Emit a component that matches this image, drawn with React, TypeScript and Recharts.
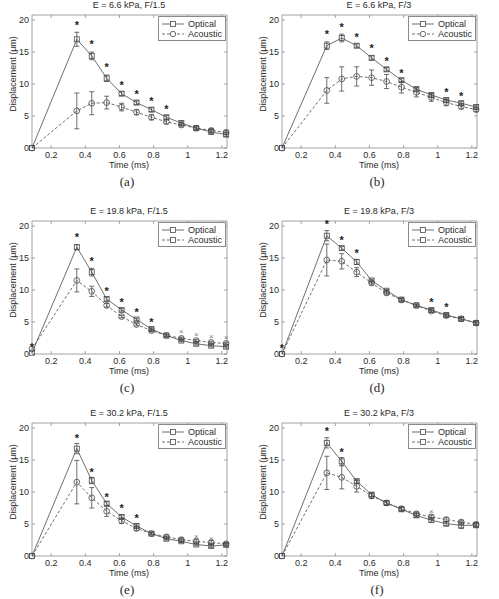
import React from 'react';
import { ComposedChart, Line, XAxis, YAxis, ErrorBar, Scatter, ReferenceArea, ReferenceLine } from 'recharts';

const TIME_MS = [0.0875, 0.35, 0.4375, 0.525, 0.6125, 0.7, 0.7875, 0.875, 0.9625, 1.05, 1.1375, 1.225];
const X_TICKS = [0.2, 0.4, 0.6, 0.8, 1, 1.2];
const Y_TICKS = [0, 5, 10, 15, 20];
const X_DOMAIN = [0.0875, 1.23];
const Y_DOMAIN = [0, 20.8];

const TITLES = [
  'E = 6.6 kPa, F/1.5', 'E = 6.6 kPa, F/3',
  'E = 19.8 kPa, F/1.5', 'E = 19.8 kPa, F/3',
  'E = 30.2 kPa, F/1.5', 'E = 30.2 kPa, F/3',
];
const LETTERS = ['(a)', '(b)', '(c)', '(d)', '(e)', '(f)'];

// (a)
const OPT_A = [0, 17.0, 14.4, 10.9, 8.5, 7.1, 6.0, 4.8, 3.9, 3.1, 2.5, 2.1];
const OPT_ERR_A = [null, 1.1, 0.6, 0.5, 0.3, 0.3, 0.3, 0.3, 0.3, 0.3, 0.3, 0.3];
const AC_A = [0, 5.8, 7.0, 7.1, 6.4, 5.6, 4.8, 4.1, 3.6, 3.1, 2.75, 2.45];
const AC_ERR_A = [null, 2.8, 1.8, 1.0, 0.6, 0.4, 0.4, 0.3, 0.3, 0.2, 0.3, 0.3];
const STAR_A = [null, 19.2, 16.2, 12.6, 9.8, 8.4, 7.3, 6.1, null, null, null, null];
const CROSS_A = [null, null, null, null, null, null, null, null, null, null, null, null];

// (b)
const OPT_B = [0, 16.0, 17.2, 16.0, 14.1, 12.3, 10.6, 9.2, 8.3, 7.5, 7.0, 6.4];
const OPT_ERR_B = [null, 0.6, 0.6, 0.3, 0.3, 0.3, 0.3, 0.3, 0.3, 0.3, 0.3, 0.3];
const AC_B = [0, 9.0, 10.8, 11.2, 11.0, 10.4, 9.5, 8.7, 7.9, 7.1, 6.5, 6.0];
const AC_ERR_B = [null, 2.0, 1.9, 1.5, 1.2, 1.1, 0.9, 0.7, 0.6, 0.5, 0.4, 0.3];
const STAR_B = [null, 17.8, 19.0, 17.4, 15.6, 13.6, 11.8, null, null, 8.8, 8.2, null];
const CROSS_B = [null, null, null, null, null, null, null, null, null, null, null, null];

// (c)
const OPT_C = [0.2, 16.7, 12.8, 8.6, 6.9, 5.4, 3.9, 2.9, 2.1, 1.6, 1.3, 1.15];
const OPT_ERR_C = [null, 0.4, 0.6, 0.3, 0.2, 0.2, 0.2, 0.2, 0.2, 0.2, 0.2, 0.2];
const AC_C = [0.8, 11.5, 9.8, 7.6, 5.85, 4.6, 3.65, 2.9, 2.45, 2.1, 1.8, 1.65];
const AC_ERR_C = [null, 1.8, 0.8, 0.3, 0.2, 0.2, 0.2, 0.2, 0.2, 0.2, 0.2, 0.2];
const STAR_C = [1.1, 18.3, 14.5, 9.8, 8.1, 6.6, 5.0, null, null, null, null, null];
const CROSS_C = [null, null, null, null, null, null, null, null, 3.5, 3.0, 2.7, 2.6];

// (d)
const OPT_D = [0, 18.5, 16.55, 14.4, 11.5, 9.9, 8.5, 7.6, 6.9, 6.1, 5.5, 4.85];
const OPT_ERR_D = [null, 0.8, 0.3, 0.4, 0.2, 0.2, 0.2, 0.2, 0.2, 0.2, 0.2, 0.2];
const AC_D = [0, 14.7, 14.5, 12.8, 11.1, 9.55, 8.45, 7.6, 6.7, 6.0, 5.5, 4.85];
const AC_ERR_D = [null, 2.5, 1.2, 0.7, 0.3, 0.3, 0.2, 0.2, 0.2, 0.2, 0.2, 0.2];
const STAR_D = [1.0, 20.3, 17.8, 15.8, null, null, null, null, 8.1, 7.4, null, null];
const CROSS_D = [null, null, null, null, null, null, null, null, null, null, null, null];

// (e)
const OPT_E = [0, 16.8, 11.8, 8.2, 6.1, 4.7, 3.5, 2.7, 2.3, 1.8, 1.55, 1.75];
const OPT_ERR_E = [null, 0.8, 0.5, 0.3, 0.3, 0.3, 0.2, 0.2, 0.2, 0.2, 0.2, 0.2];
const AC_E = [0, 11.55, 9.1, 7.0, 5.5, 4.3, 3.5, 3.0, 2.55, 2.3, 2.1, 1.9];
const AC_ERR_E = [null, 3.4, 1.6, 0.8, 0.4, 0.3, 0.2, 0.3, 0.3, 0.3, 0.3, 0.2];
const STAR_E = [null, 18.4, 13.1, 9.3, 7.5, 5.9, null, null, null, null, null, null];
const CROSS_E = [null, null, null, null, null, null, null, null, null, 3.0, 2.8, null];

// (f)
const OPT_F = [0, 17.7, 14.8, 11.7, 9.6, 8.3, 7.3, 6.35, 5.6, 5.05, 4.8, 4.8];
const OPT_ERR_F = [null, 0.8, 0.6, 0.3, 0.3, 0.3, 0.3, 0.3, 0.3, 0.3, 0.5, 0.3];
const AC_F = [0, 13.0, 12.3, 10.9, 9.4, 8.3, 7.4, 6.6, 6.1, 5.7, 5.3, 4.95];
const AC_ERR_F = [null, 2.6, 1.8, 0.9, 0.4, 0.3, 0.3, 0.3, 0.3, 0.3, 0.3, 0.3];
const STAR_F = [null, 19.5, 16.25, null, null, null, null, null, null, null, null, null];
const CROSS_F = [null, null, null, null, null, null, null, null, 6.9, null, null, null];

const PANELS = [
  { opt: OPT_A, optErr: OPT_ERR_A, ac: AC_A, acErr: AC_ERR_A, star: STAR_A, cross: CROSS_A, legendAc: 'circle' },
  { opt: OPT_B, optErr: OPT_ERR_B, ac: AC_B, acErr: AC_ERR_B, star: STAR_B, cross: CROSS_B, legendAc: 'circle' },
  { opt: OPT_C, optErr: OPT_ERR_C, ac: AC_C, acErr: AC_ERR_C, star: STAR_C, cross: CROSS_C, legendAc: 'square' },
  { opt: OPT_D, optErr: OPT_ERR_D, ac: AC_D, acErr: AC_ERR_D, star: STAR_D, cross: CROSS_D, legendAc: 'square' },
  { opt: OPT_E, optErr: OPT_ERR_E, ac: AC_E, acErr: AC_ERR_E, star: STAR_E, cross: CROSS_E, legendAc: 'square' },
  { opt: OPT_F, optErr: OPT_ERR_F, ac: AC_F, acErr: AC_ERR_F, star: STAR_F, cross: CROSS_F, legendAc: 'square' },
];

const INK = '#4a4a4a';
const FRAME = '#8a8a8a';
const TEXT = '#2a2a2a';
const SANS = '"Liberation Sans", Arial, sans-serif';
const SERIF = '"Liberation Serif", "Times New Roman", serif';

const ROW_TOPS = [0, 206, 408];
const COL_LEFTS = [0, 250];

// inward tick length, in data units (about 3px)
const TICK_Y = 0.45;
const TICK_X = 0.017;

const ok = (v: any) => typeof v === 'number' && Number.isFinite(v);

const SquareDot = (props: any) => {
  const { cx, cy } = props;
  if (!ok(cx) || !ok(cy)) return null;
  return <rect x={cx - 2.5} y={cy - 2.5} width={5} height={5} fill="none" stroke={INK} strokeWidth={0.8} />;
};

const CircleDot = (props: any) => {
  const { cx, cy } = props;
  if (!ok(cx) || !ok(cy)) return null;
  return <circle cx={cx} cy={cy} r={2.9} fill="none" stroke={INK} strokeWidth={0.8} />;
};

const StarMark = (props: any) => {
  const { cx, cy } = props;
  if (!ok(cx) || !ok(cy)) return null;
  return <text x={cx} y={cy + 4} textAnchor="middle" fontSize={11} fontWeight="bold" fill="#222" fontFamily={SANS}>*</text>;
};

const CrossMark = (props: any) => {
  const { cx, cy } = props;
  if (!ok(cx) || !ok(cy)) return null;
  return <text x={cx} y={cy + 2.5} textAnchor="middle" fontSize={8} fill="#777" fontFamily={SANS}>×</text>;
};

const LegendBox = ({ acMarker }: { acMarker: string }) => (
  <div style={{ position: 'absolute', left: 158, top: 16, width: 66, height: 23, border: `1px solid ${FRAME}`, background: '#fff' }}>
    <svg width={66} height={23} style={{ position: 'absolute', left: 0, top: 0 }}>
      <line x1={3} y1={7} x2={25} y2={7} stroke={INK} strokeWidth={0.8} />
      <rect x={11.5} y={4.5} width={5} height={5} fill="#fff" stroke={INK} strokeWidth={0.8} />
      <line x1={3} y1={17} x2={25} y2={17} stroke={INK} strokeWidth={0.8} strokeDasharray="3 2" />
      {acMarker === 'circle'
        ? <circle cx={14} cy={17} r={2.7} fill="#fff" stroke={INK} strokeWidth={0.8} />
        : <rect x={11.5} y={14.5} width={5} height={5} fill="#fff" stroke={INK} strokeWidth={0.8} />}
      <text x={29} y={10} fontSize={9} fill={TEXT} fontFamily={SANS}>Optical</text>
      <text x={29} y={20} fontSize={9} fill={TEXT} fontFamily={SANS}>Acoustic</text>
    </svg>
  </div>
);

const Panel = ({ idx }: { idx: number }) => {
  const p = PANELS[idx];
  const left = COL_LEFTS[idx % 2];
  const top = ROW_TOPS[Math.floor(idx / 2)];
  const rows = TIME_MS.map((t, i) => ({ t, opt: p.opt[i], optErr: p.optErr[i], ac: p.ac[i], acErr: p.acErr[i] }));
  const stars = TIME_MS.map((t, i) => ({ t, v: p.star[i] })).filter((d) => d.v != null);
  const crosses = TIME_MS.map((t, i) => ({ t, v: p.cross[i] })).filter((d) => d.v != null);
  const [x0, x1] = X_DOMAIN;
  const [y0, y1] = Y_DOMAIN;

  return (
    <div style={{ position: 'absolute', left, top, width: 250, height: 200 }}>
      <ComposedChart width={250} height={200} data={rows} margin={{ top: 15, right: 23, left: 0, bottom: 0 }}>
        <XAxis
          type="number"
          dataKey="t"
          domain={X_DOMAIN}
          ticks={X_TICKS}
          height={52}
          axisLine={false}
          tickLine={false}
          tickSize={0}
          tickMargin={4}
          tick={{ fontSize: 9, fill: TEXT, fontFamily: SANS }}
        />
        <YAxis
          type="number"
          domain={Y_DOMAIN}
          ticks={Y_TICKS}
          width={32}
          axisLine={false}
          tickLine={false}
          tickSize={0}
          tickMargin={3}
          tick={{ fontSize: 9, fill: TEXT, fontFamily: SANS }}
        />
        <ReferenceArea x1={x0} x2={x1} y1={y0} y2={y1} fill="none" stroke={FRAME} strokeWidth={0.8} />
        {X_TICKS.map((t) => (
          <ReferenceLine key={`xb${t}`} segment={[{ x: t, y: y0 }, { x: t, y: y0 + TICK_Y }]} stroke={FRAME} strokeWidth={0.8} />
        ))}
        {X_TICKS.map((t) => (
          <ReferenceLine key={`xt${t}`} segment={[{ x: t, y: y1 }, { x: t, y: y1 - TICK_Y }]} stroke={FRAME} strokeWidth={0.8} />
        ))}
        {Y_TICKS.map((v) => (
          <ReferenceLine key={`yl${v}`} segment={[{ x: x0, y: v }, { x: x0 + TICK_X, y: v }]} stroke={FRAME} strokeWidth={0.8} />
        ))}
        {Y_TICKS.map((v) => (
          <ReferenceLine key={`yr${v}`} segment={[{ x: x1, y: v }, { x: x1 - TICK_X, y: v }]} stroke={FRAME} strokeWidth={0.8} />
        ))}
        <Line dataKey="ac" stroke={INK} strokeWidth={0.8} strokeDasharray="3 2" dot={<CircleDot />} isAnimationActive={false}>
          <ErrorBar dataKey="acErr" width={2.5} stroke={INK} strokeWidth={0.8} direction="y" />
        </Line>
        <Line dataKey="opt" stroke={INK} strokeWidth={0.8} dot={<SquareDot />} isAnimationActive={false}>
          <ErrorBar dataKey="optErr" width={2.5} stroke={INK} strokeWidth={0.8} direction="y" />
        </Line>
        {stars.length > 0 && (
          <Scatter data={stars} dataKey="v" shape={<StarMark />} isAnimationActive={false} />
        )}
        {crosses.length > 0 && (
          <Scatter data={crosses} dataKey="v" shape={<CrossMark />} isAnimationActive={false} />
        )}
      </ComposedChart>

      <div style={{ position: 'absolute', left: 29, width: 200, top: 0, textAlign: 'center', fontFamily: SANS, fontSize: 9, color: TEXT, lineHeight: '10px' }}>
        {TITLES[idx]}
      </div>
      <div style={{ position: 'absolute', left: -47, top: 68, width: 120, textAlign: 'center', transform: 'rotate(-90deg)', fontFamily: SANS, fontSize: 9, color: TEXT, lineHeight: '12px' }}>
        Displacement (μm)
      </div>
      <div style={{ position: 'absolute', left: 29, width: 200, top: 159, textAlign: 'center', fontFamily: SANS, fontSize: 9, color: TEXT, lineHeight: '12px' }}>
        Time (ms)
      </div>
      <div style={{ position: 'absolute', left: 27, width: 200, top: 174, textAlign: 'center', fontFamily: SERIF, fontSize: 13, color: TEXT, lineHeight: '16px' }}>
        {LETTERS[idx]}
      </div>
      <LegendBox acMarker={p.legendAc} />
    </div>
  );
};

export default function App() {
  return (
    <div style={{ position: 'absolute', left: 0, top: 0, width: 499, height: 599, background: '#fff', overflow: 'hidden' }}>
      {PANELS.map((_, i) => (
        <Panel key={i} idx={i} />
      ))}
    </div>
  );
}
